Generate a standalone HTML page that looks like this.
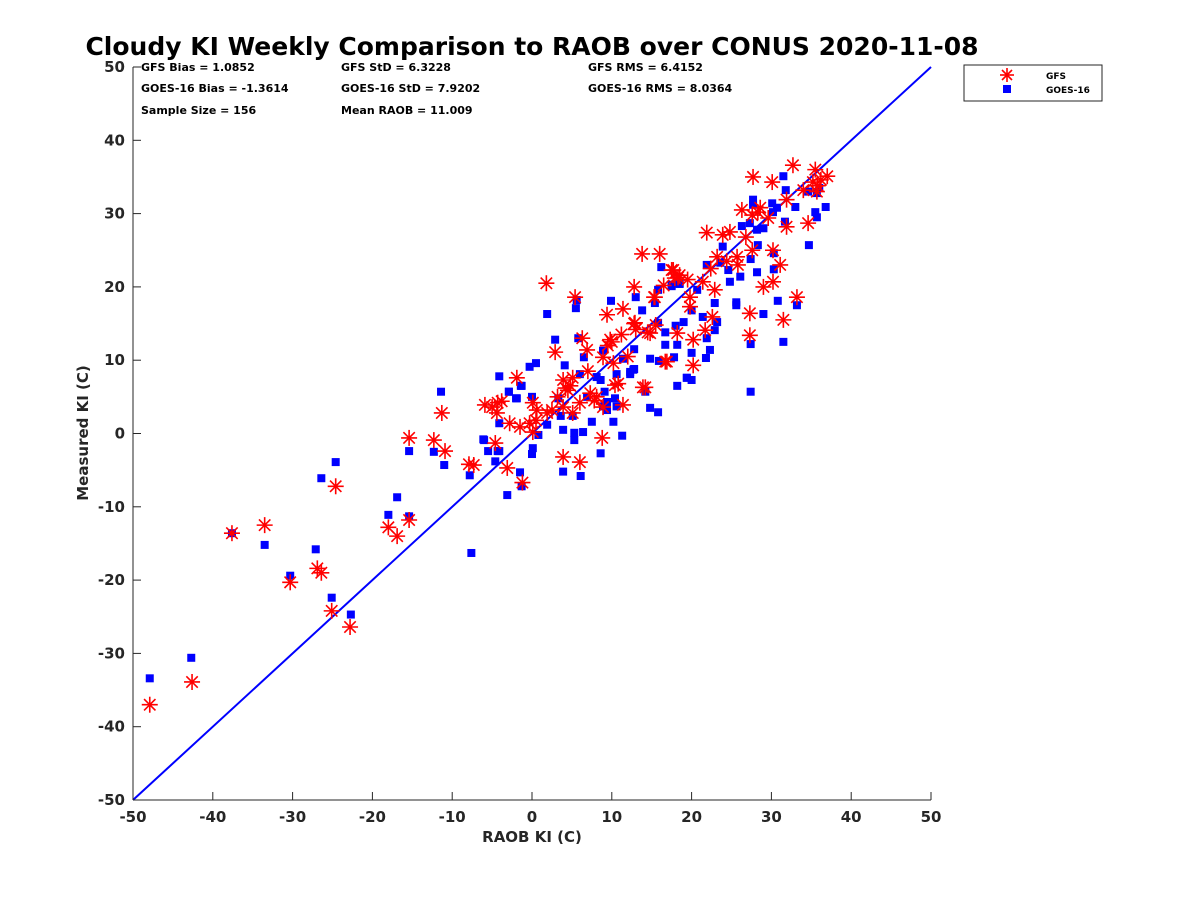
<!DOCTYPE html>
<html><head><meta charset="utf-8"><style>
body{margin:0;background:#fff;}
svg{display:block;font-family:"DejaVu Sans","Liberation Sans",sans-serif;}
</style></head><body>
<svg id="chart" width="1200" height="900" viewBox="0 0 1200 900">
<rect width="1200" height="900" fill="#fff"/>
<text x="532" y="55" text-anchor="middle" font-size="25" font-weight="bold" fill="#000">Cloudy KI Weekly Comparison to RAOB over CONUS 2020-11-08</text>
<g font-size="11" font-weight="bold" fill="#000">
<text x="141" y="71">GFS Bias = 1.0852</text>
<text x="141" y="92">GOES-16 Bias = -1.3614</text>
<text x="141" y="114">Sample Size = 156</text>
<text x="341" y="71">GFS StD = 6.3228</text>
<text x="341" y="92">GOES-16 StD = 7.9202</text>
<text x="341" y="114">Mean RAOB = 11.009</text>
<text x="588" y="71">GFS RMS = 6.4152</text>
<text x="588" y="92">GOES-16 RMS = 8.0364</text>
</g>
<g id="marks"></g>
<g id="axes"></g>
<g>
<rect x="964" y="65" width="138" height="36" fill="#fff" stroke="#262626" stroke-width="1"/>
<g>
<g stroke="#f00" stroke-width="1.6" transform="translate(1007,75)">
<line x1="-7" y1="0" x2="7" y2="0"/><line x1="0" y1="-7" x2="0" y2="7"/><line x1="-5" y1="-5" x2="5" y2="5"/><line x1="-5" y1="5" x2="5" y2="-5"/></g>
<text x="1046" y="79" font-size="9" font-weight="bold">GFS</text></g>
<g>
<rect x="1003" y="85" width="8" height="8" fill="#00f"/>
<text x="1046" y="93" font-size="9" font-weight="bold">GOES-16</text></g>
</g>
</svg>
<script>
const gfsRaob=[-47.9,-42.6,-37.6,-33.5,-30.3,-26.9,-26.4,-24.6,-25.1,-22.8,
-18,-16.9,-15.4,-15.4,-12.3,-10.9,-11.3,-7.9,-7.3,1.8,
5.4,9.4,11.4,12.8,15.3,16,13.8,17.7,18.3,12.8,
14.8,9.8,6.3,2.9,6.9,8.9,10.2,-1.9,3.9,5.1,
4.5,7.3,10.4,13.9,16.7,11.4,-5.9,-4.3,-4.4,-2.8,
-1.5,0.1,0.6,1.9,-0.3,0.1,3.9,5.1,6,8.1,
8.9,-4.6,-3.1,-1.2,3.9,6,8.8,
32.7,35.5,37,35.2,35.7,27.7,30.1,31.9,26.3,28.3,
27.6,29.6,31.9,34.6,21.9,23.9,24.8,25.7,27.6,30.2,
31.1,23.2,25.8,17.5,18.5,17.9,21.4,22.9,29,30.2,
33.2,15.4,19.8,19.8,27.3,31.5,12.9,18.2,20.2,21.7,
22.6,27.3,16.9,20.2,10,14.2,
-5,-3.8,0.5,2.5,4.8,7,9.5,11.2,13,15.5,
16.5,19.5,22.4,24.4,26.8,28.6,34,36.2,35.8,3.2,
4.2,7.8,10.8,12,14.5];
const gfsMeas=[-37,-33.9,-13.6,-12.5,-20.3,-18.4,-19,-7.2,-24.2,-26.4,
-12.8,-14,-11.8,-0.6,-0.9,-2.4,2.8,-4.2,-4.3,20.5,
18.6,16.2,17,20,18.6,24.5,24.5,22.3,21.3,15,
13.7,12.8,13,11.1,11.4,10.4,9.6,7.6,7.3,7.6,
5.9,5.5,6.6,6.3,9.8,3.9,3.9,4.2,2.8,1.4,
0.9,4.2,3.2,2.8,1.4,0.2,3.6,2.8,4.2,5,
3.6,-1.3,-4.7,-6.7,-3.2,-3.9,-0.6,
36.6,36,35.1,34.3,33,35,34.3,31.9,30.5,30.2,
29.8,29.4,28.2,28.7,27.4,27.1,27.5,24.1,25,25,
23,24.1,23,22.3,21.6,21.2,20.7,19.6,20,20.7,
18.6,18.6,18.6,17.3,16.4,15.5,15.1,13.7,12.8,14.1,
15.9,13.4,9.8,9.3,12.5,6.3,
3.6,4.4,1.8,3.2,6.5,8.5,12,13.5,14.2,14.8,
20.2,21,22.5,23.5,26.8,30.8,33.2,34.6,33.8,5,
6.2,4.5,6.8,10.5,13.8];
const goesRaob=[-47.9,-42.7,-37.6,-33.5,-30.3,-27.1,-26.4,-24.6,-25.1,-22.7,
-18,-16.9,-15.4,-15.4,-12.3,-11.4,-11,-7.6,-7.8,-6,
-5.5,-4.1,-4.6,-1.5,-1.3,-3.1,-2.9,-2,-1.4,-4.1,
16.2,17.5,18.5,15.8,13,9.9,5.6,5.5,1.9,13.8,
15.4,15.8,16.7,18,19,16.7,18.2,12.8,11.4,14.8,
15.9,17.8,19.4,18.2,12.8,12.3,10.6,8.9,6.5,5.8,
2.9,4.1,-0.3,0.5,-4.1,-1.3,-2.9,-1.9,0,3.3,
6,8.1,8.6,6.9,9.1,10.4,9.4,14.2,14.8,15.8,
8.9,9.4,10.6,10.2,11.3,7.5,5.1,3.6,3.9,5.3,
5.3,6.4,1.9,0.8,0.1,0,-6.1,-4.3,8.6,3.9,
6.1,
31.5,31.8,34.6,35.7,35.5,35.7,36.8,33,27.7,27.7,
30.1,30.7,30.2,31.7,26.3,27.3,28.2,29,34.7,28.3,
30.3,23.9,27.4,24.6,21.9,23.6,20.7,24.8,26.1,28.2,
30.3,20,21.4,22.9,25.6,25.6,30.8,29,33.2,23.2,
22.9,21.9,20,22.3,21.8,12.3,12.7,19.4,20,27.4,
31.5,27.4,17.5,18.5,36];
const goesMeas=[-33.4,-30.6,-13.6,-15.2,-19.4,-15.8,-6.1,-3.9,-22.4,-24.7,
-11.1,-8.7,-11.3,-2.4,-2.5,5.7,-4.3,-16.3,-5.7,-0.9,
-2.4,-2.4,-3.8,-5.3,-7.2,-8.4,5.7,4.8,6.5,1.4,
22.7,20.3,20.5,19.6,18.6,18.1,18.2,17.1,16.3,16.8,
17.8,15.1,13.8,14.7,15.2,12.1,12.1,11.5,10.2,10.2,
9.9,10.4,7.6,6.5,8.8,8.1,8.1,11.3,10.4,13,
12.8,9.3,9.1,9.6,7.8,6.5,5.7,4.8,5,4.8,
8.1,7.7,7.3,5,5.7,4.8,4.3,5.7,3.5,2.9,
3.7,3.2,3.7,1.6,-0.3,1.6,2.4,2.4,0.5,0.1,
-0.9,0.2,1.2,-0.2,-2,-2.8,-0.8,-2.4,-2.7,-5.2,
-5.8,
35.1,33.2,33,32.8,30.2,29.5,30.9,30.9,31.9,31.2,
31.4,30.8,30.2,28.9,28.3,28.7,27.8,28,25.7,25.7,
24.6,25.5,23.8,22.3,23,23.3,19.6,20.7,21.4,22,
22.4,16.8,15.9,17.8,17.9,17.5,18.1,16.3,17.5,15.2,
14.1,13,11,11.4,10.3,8.4,8.7,7.6,7.3,12.2,
12.5,5.7,20.1,20.4,33.5];
const xTicks=[-50,-40,-30,-20,-10,0,10,20,30,40,50];
const yTicks=[-50,-40,-30,-20,-10,0,10,20,30,40,50];
const X0=133,X1=931,Y0=800,Y1=67;
function xs(v){return X0+(v+50)/100*(X1-X0);}
function ys(v){return Y0-(v+50)/100*(Y0-Y1);}
const NS='http://www.w3.org/2000/svg';
function mk(t,a,p){const e=document.createElementNS(NS,t);for(const k in a)e.setAttribute(k,a[k]);p.appendChild(e);return e;}
const marks=document.getElementById('marks');
const diag=mk('line',{x1:xs(-50),y1:ys(-50),x2:xs(50),y2:ys(50),stroke:'#00f','stroke-width':2},marks);


const gG=mk('g',{},marks);


const nG=Math.min(goesRaob.length,goesMeas.length);
for(let i=0;i<nG;i++){
  const r=mk('rect',{x:xs(goesRaob[i])-4,y:ys(goesMeas[i])-4,width:8,height:8,fill:'#00f'},gG);
  
  
}
const gF=mk('g',{stroke:'#f00','stroke-width':1.6},marks);


const nF=Math.min(gfsRaob.length,gfsMeas.length);
for(let i=0;i<nF;i++){
  const g=mk('g',{transform:'translate('+xs(gfsRaob[i])+','+ys(gfsMeas[i])+')'},gF);
  
  
  mk('line',{x1:-8,y1:0,x2:8,y2:0},g);mk('line',{x1:0,y1:-8,x2:0,y2:8},g);
  mk('line',{x1:-5.7,y1:-5.7,x2:5.7,y2:5.7},g);mk('line',{x1:-5.7,y1:5.7,x2:5.7,y2:-5.7},g);
}
const ax=document.getElementById('axes');
const xa=mk('g',{},ax);


mk('line',{x1:X0,y1:Y0,x2:X1,y2:Y0,stroke:'#262626','stroke-width':1},xa);
xTicks.forEach(t=>{
  mk('line',{x1:xs(t),y1:Y0,x2:xs(t),y2:Y0-8,stroke:'#262626'},xa);
  const tx=mk('text',{x:xs(t),y:Y0+22,'text-anchor':'middle','font-size':15,'font-weight':'bold',fill:'#262626'},xa);
  tx.textContent=t;
  
  
});
const ya=mk('g',{},ax);


mk('line',{x1:X0,y1:Y0,x2:X0,y2:Y1,stroke:'#262626','stroke-width':1},ya);
yTicks.forEach(t=>{
  mk('line',{x1:X0,y1:ys(t),x2:X0+8,y2:ys(t),stroke:'#262626'},ya);
  const tx=mk('text',{x:X0-8,y:ys(t)+5,'text-anchor':'end','font-size':15,'font-weight':'bold',fill:'#262626'},ya);
  tx.textContent=t;
  
  
});
const xt=mk('text',{x:532,y:842,'text-anchor':'middle','font-size':15,'font-weight':'bold',fill:'#262626'},ax);
xt.textContent='RAOB KI (C)';


const yt=mk('text',{x:88,y:433,'text-anchor':'middle','font-size':15,'font-weight':'bold',fill:'#262626',transform:'rotate(-90 88 433)'},ax);
yt.textContent='Measured KI (C)';


</script>
</body></html>
